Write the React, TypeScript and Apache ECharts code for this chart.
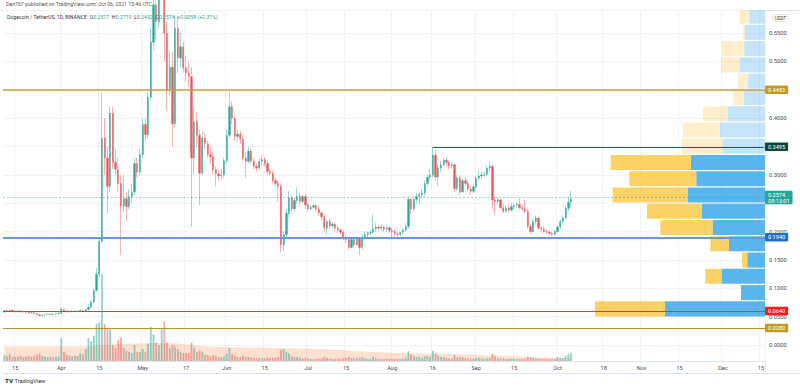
import React, { useEffect, useRef } from "react";
import * as echarts from "echarts";

const DAY = 86400000;
const firstDay = Date.UTC(2021, 2, 11);
const categoryCount = 281;
const categories: string[] = [];
for (let i = 0; i < categoryCount; i++) {
  categories.push(new Date(firstDay + i * DAY).toISOString().slice(0, 10));
}

const tickDates = [
  "2021-03-15", "2021-04-01", "2021-04-15", "2021-05-01", "2021-05-17", "2021-06-01",
  "2021-06-15", "2021-07-01", "2021-07-15", "2021-08-01", "2021-08-16", "2021-09-01",
  "2021-09-15", "2021-10-01", "2021-10-18", "2021-11-01", "2021-11-15", "2021-12-01", "2021-12-15",
];
const tickLabels = ["15", "Apr", "15", "May", "17", "Jun", "15", "Jul", "15", "Aug", "16", "Sep", "15", "Oct", "18", "Nov", "15", "Dec", "15"];

// price-axis labels hidden behind the level badges in the reference
const hiddenPriceLabels = [0.45, 0.35, 0.25];

// [open, close, low, high] daily, from 2021-03-11
const candles: number[][] = [
  [0.0585, 0.0605, 0.056, 0.0625], [0.0605, 0.0595, 0.058, 0.062], [0.0595, 0.0612, 0.058, 0.0625],
  [0.0612, 0.0598, 0.058, 0.0625], [0.0598, 0.059, 0.057, 0.061], [0.059, 0.0602, 0.057, 0.0615],
  [0.0602, 0.0585, 0.057, 0.061], [0.0585, 0.0588, 0.057, 0.06], [0.0588, 0.0575, 0.056, 0.06],
  [0.0575, 0.0565, 0.055, 0.059], [0.0565, 0.057, 0.055, 0.0585], [0.057, 0.0555, 0.054, 0.058],
  [0.0555, 0.0535, 0.052, 0.056], [0.0535, 0.052, 0.0505, 0.055], [0.052, 0.053, 0.0505, 0.0545],
  [0.053, 0.054, 0.052, 0.0555], [0.054, 0.0545, 0.053, 0.0556], [0.0545, 0.054, 0.053, 0.0556],
  [0.054, 0.0548, 0.053, 0.056], [0.0548, 0.0552, 0.054, 0.0565], [0.0552, 0.056, 0.054, 0.0575],
  // April
  [0.056, 0.0625, 0.0555, 0.0665], [0.0625, 0.0605, 0.059, 0.064], [0.0605, 0.0585, 0.057, 0.062],
  [0.0585, 0.059, 0.057, 0.0605], [0.059, 0.06, 0.058, 0.0615], [0.06, 0.0592, 0.058, 0.061],
  [0.0592, 0.0598, 0.058, 0.061], [0.0598, 0.0612, 0.059, 0.0625], [0.0612, 0.0605, 0.059, 0.0625],
  [0.0605, 0.0625, 0.06, 0.064], [0.0625, 0.0665, 0.061, 0.072], [0.0665, 0.076, 0.065, 0.08],
  [0.076, 0.096, 0.074, 0.1], [0.096, 0.125, 0.094, 0.136], [0.125, 0.183, 0.12, 0.19],
  [0.183, 0.365, 0.179, 0.4456], [0.365, 0.33, 0.3, 0.4], [0.33, 0.28, 0.232, 0.35],
  [0.28, 0.409, 0.27, 0.42], [0.409, 0.322, 0.31, 0.42], [0.322, 0.31, 0.3, 0.345],
  [0.31, 0.285, 0.27, 0.33], [0.285, 0.245, 0.159, 0.3], [0.245, 0.258, 0.235, 0.3],
  [0.258, 0.244, 0.219, 0.27], [0.244, 0.262, 0.24, 0.275], [0.262, 0.27, 0.25, 0.285],
  [0.27, 0.32, 0.265, 0.33], [0.32, 0.305, 0.295, 0.33], [0.305, 0.336, 0.3, 0.345],
  // May
  [0.336, 0.389, 0.33, 0.4], [0.389, 0.371, 0.36, 0.4], [0.371, 0.437, 0.365, 0.445],
  [0.437, 0.534, 0.43, 0.56], [0.534, 0.6, 0.52, 0.65], [0.6, 0.57, 0.54, 0.65],
  [0.57, 0.64, 0.56, 0.68], [0.64, 0.68, 0.62, 0.7376], [0.68, 0.55, 0.5, 0.7],
  [0.55, 0.45, 0.414, 0.57], [0.45, 0.49, 0.44, 0.52], [0.49, 0.39, 0.349, 0.517],
  [0.39, 0.559, 0.385, 0.58], [0.559, 0.506, 0.48, 0.58], [0.506, 0.526, 0.49, 0.55],
  [0.526, 0.489, 0.48, 0.535], [0.489, 0.48, 0.465, 0.51], [0.48, 0.473, 0.455, 0.5],
  [0.473, 0.33, 0.208, 0.49], [0.33, 0.394, 0.3, 0.42], [0.394, 0.37, 0.35, 0.41],
  [0.37, 0.303, 0.247, 0.38], [0.303, 0.365, 0.3, 0.375], [0.365, 0.355, 0.345, 0.375],
  [0.355, 0.336, 0.33, 0.36], [0.336, 0.332, 0.32, 0.35], [0.332, 0.309, 0.3, 0.34],
  [0.309, 0.302, 0.28, 0.315], [0.302, 0.298, 0.29, 0.31], [0.298, 0.3, 0.292, 0.31],
  // June
  [0.3, 0.325, 0.295, 0.33], [0.325, 0.37, 0.32, 0.38], [0.37, 0.42, 0.365, 0.4457],
  [0.42, 0.4, 0.39, 0.43], [0.4, 0.368, 0.36, 0.405], [0.368, 0.372, 0.36, 0.38],
  [0.372, 0.363, 0.355, 0.378], [0.363, 0.33, 0.325, 0.37], [0.33, 0.324, 0.295, 0.34],
  [0.324, 0.342, 0.32, 0.35], [0.342, 0.324, 0.32, 0.348], [0.324, 0.315, 0.31, 0.33],
  [0.315, 0.312, 0.305, 0.32], [0.312, 0.324, 0.308, 0.33], [0.324, 0.327, 0.318, 0.335],
  [0.327, 0.32, 0.315, 0.332], [0.32, 0.306, 0.3, 0.325], [0.306, 0.303, 0.298, 0.312],
  [0.303, 0.29, 0.285, 0.308], [0.29, 0.285, 0.28, 0.295], [0.285, 0.28, 0.253, 0.29],
  [0.28, 0.177, 0.163, 0.285], [0.177, 0.195, 0.165, 0.2], [0.195, 0.232, 0.19, 0.24],
  [0.232, 0.26, 0.225, 0.272], [0.26, 0.24, 0.235, 0.265], [0.24, 0.255, 0.235, 0.26],
  [0.255, 0.262, 0.25, 0.278], [0.262, 0.253, 0.248, 0.268], [0.253, 0.262, 0.25, 0.265],
  // July
  [0.262, 0.247, 0.24, 0.266], [0.247, 0.24, 0.235, 0.25], [0.24, 0.243, 0.237, 0.246],
  [0.243, 0.246, 0.24, 0.25], [0.246, 0.24, 0.236, 0.248], [0.24, 0.233, 0.228, 0.245],
  [0.233, 0.226, 0.22, 0.236], [0.226, 0.206, 0.2, 0.23], [0.206, 0.218, 0.195, 0.222],
  [0.218, 0.21, 0.206, 0.222], [0.21, 0.213, 0.207, 0.216], [0.213, 0.206, 0.202, 0.216],
  [0.206, 0.203, 0.198, 0.21], [0.203, 0.199, 0.195, 0.206], [0.199, 0.188, 0.185, 0.202],
  [0.188, 0.186, 0.18, 0.195], [0.186, 0.172, 0.168, 0.19], [0.172, 0.186, 0.17, 0.19],
  [0.186, 0.177, 0.173, 0.19], [0.177, 0.188, 0.175, 0.192], [0.188, 0.172, 0.159, 0.19],
  [0.172, 0.19, 0.168, 0.196], [0.19, 0.195, 0.186, 0.2], [0.195, 0.198, 0.19, 0.2],
  [0.198, 0.199, 0.194, 0.203], [0.199, 0.205, 0.196, 0.23], [0.205, 0.208, 0.2, 0.215],
  [0.208, 0.206, 0.203, 0.212], [0.206, 0.208, 0.202, 0.213], [0.208, 0.204, 0.2, 0.21],
  [0.204, 0.207, 0.2, 0.212],
  // August
  [0.207, 0.202, 0.198, 0.21], [0.202, 0.2, 0.19, 0.206], [0.2, 0.196, 0.193, 0.203],
  [0.196, 0.195, 0.19, 0.199], [0.195, 0.199, 0.192, 0.2], [0.199, 0.203, 0.195, 0.206],
  [0.203, 0.209, 0.2, 0.215], [0.209, 0.257, 0.205, 0.262], [0.257, 0.24, 0.23, 0.26],
  [0.24, 0.257, 0.236, 0.262], [0.257, 0.262, 0.25, 0.268], [0.262, 0.265, 0.248, 0.27],
  [0.265, 0.268, 0.258, 0.275], [0.268, 0.285, 0.262, 0.29], [0.285, 0.296, 0.28, 0.3],
  [0.296, 0.3, 0.29, 0.31], [0.3, 0.335, 0.295, 0.3495], [0.335, 0.296, 0.29, 0.345],
  [0.296, 0.312, 0.28, 0.32], [0.312, 0.318, 0.305, 0.325], [0.318, 0.326, 0.315, 0.33],
  [0.326, 0.322, 0.315, 0.33], [0.322, 0.316, 0.31, 0.325], [0.316, 0.318, 0.31, 0.322],
  [0.318, 0.276, 0.27, 0.32], [0.276, 0.295, 0.272, 0.3], [0.295, 0.27, 0.265, 0.298],
  [0.27, 0.29, 0.268, 0.293], [0.29, 0.285, 0.28, 0.295], [0.285, 0.275, 0.271, 0.29],
  [0.275, 0.271, 0.265, 0.28],
  // September
  [0.271, 0.279, 0.268, 0.283], [0.279, 0.294, 0.275, 0.298], [0.294, 0.298, 0.29, 0.309],
  [0.298, 0.3, 0.293, 0.305], [0.3, 0.301, 0.296, 0.306], [0.301, 0.312, 0.298, 0.316],
  [0.312, 0.315, 0.306, 0.323], [0.315, 0.256, 0.24, 0.318], [0.256, 0.253, 0.23, 0.262],
  [0.253, 0.256, 0.248, 0.26], [0.256, 0.242, 0.24, 0.258], [0.242, 0.236, 0.233, 0.248],
  [0.236, 0.241, 0.233, 0.245], [0.241, 0.238, 0.235, 0.248], [0.238, 0.244, 0.235, 0.25],
  [0.244, 0.246, 0.24, 0.25], [0.246, 0.248, 0.242, 0.252], [0.248, 0.242, 0.24, 0.258],
  [0.242, 0.24, 0.237, 0.246], [0.24, 0.236, 0.232, 0.256], [0.236, 0.209, 0.205, 0.24],
  [0.209, 0.2, 0.196, 0.213], [0.2, 0.218, 0.198, 0.222], [0.218, 0.224, 0.214, 0.228],
  [0.224, 0.206, 0.204, 0.226], [0.206, 0.204, 0.2, 0.21], [0.204, 0.2, 0.198, 0.209],
  [0.2, 0.199, 0.196, 0.204], [0.199, 0.197, 0.194, 0.202], [0.197, 0.195, 0.193, 0.2],
  // October
  [0.195, 0.2, 0.193, 0.203], [0.2, 0.208, 0.198, 0.212], [0.208, 0.218, 0.205, 0.222],
  [0.218, 0.224, 0.215, 0.228], [0.224, 0.241, 0.222, 0.245], [0.241, 0.2517, 0.236, 0.26],
  [0.2517, 0.2574, 0.2432, 0.2719],
];

// daily volume, billions of DOGE
const volumes = [
  2.2, 1.8, 2.5, 1.6, 1.5, 1.7, 2.0, 1.4, 1.6, 1.8, 1.5, 2.0, 2.4, 2.8, 2.0, 1.7, 1.5, 1.6, 1.4, 1.5, 1.8,
  8.7, 3.5, 2.4, 2.0, 1.8, 2.0, 1.9, 3.0, 2.5, 4.5, 8.7, 7.5, 9.5, 14.0, 14.5,
  33, 14, 12, 12, 6, 5, 8, 9, 5, 4, 3.5, 3.0, 6.0, 3.5, 3.5, 4.5, 3.5, 6.5, 13, 10, 7, 6, 12, 15, 7, 5, 6, 5.5, 4.5, 3.5, 3, 3, 3, 7,
  5, 3.5, 4, 3.5, 2.4, 2.2, 1.8, 2.2, 2.0, 1.6, 1.4, 1.8, 2.8, 4.9, 2.6, 2.0, 1.5, 1.4, 2.0, 1.6,
  1.5, 1.3, 1.2, 1.1, 1.2, 1.0, 1.1, 1.3, 1.0, 1.3, 1.2, 1.5, 4.3, 4.6, 3.5, 2.8, 1.8, 1.5, 1.6, 1.2,
  0.9, 1.2, 1.0, 0.8, 0.7, 0.8, 0.9, 1.0, 1.6, 1.2, 1.0, 0.8, 0.8, 0.9, 0.9, 1.2, 1.1, 1.5, 1.2, 1.0,
  1.1, 1.4, 1.5, 1.0, 0.8, 0.8, 1.6, 1.0, 0.8, 0.8, 0.8,
  0.9, 0.8, 0.9, 0.8, 0.9, 0.7, 0.9, 1.2, 3.7, 2.4, 1.8, 1.5, 1.6, 1.2, 1.8, 1.9, 1.5, 3.9, 2.8, 2.0,
  1.5, 1.6, 1.2, 1.0, 0.9, 2.2, 1.4, 1.3, 1.4, 1.1, 1.0, 0.9, 0.8, 1.1, 1.2, 1.0, 0.8, 1.0, 1.1, 2.9,
  1.8, 1.1, 1.0, 1.0, 0.8, 0.8, 0.9, 0.8, 0.7, 0.8, 0.7, 0.9, 1.6, 1.4, 1.2, 0.9, 1.0, 0.8, 0.8, 0.7,
  0.8, 0.9, 0.8, 1.5, 1.1, 1.0, 2.0, 2.6, 3.043,
];

// volume moving-average area (billions)
const volMaDates = [
  "2021-03-11", "2021-04-10", "2021-04-20", "2021-05-10", "2021-05-25", "2021-06-20", "2021-07-10",
  "2021-07-25", "2021-08-10", "2021-08-25", "2021-09-10", "2021-09-25", "2021-10-06",
];
const volMaValues = [5.5, 5.5, 6.3, 6.8, 5.5, 4.9, 4.3, 3.4, 2.8, 2.6, 2.0, 1.3, 1.1];

// visible range volume profile: price bin edges, up / down volume per bin
const profileEdges = [
  0.0494, 0.0781, 0.1068, 0.1354, 0.1641, 0.1928, 0.2215, 0.2502, 0.2788, 0.3075,
  0.3362, 0.3649, 0.3936, 0.4222, 0.4509, 0.4796, 0.5083, 0.537, 0.5656, 0.5943,
];
const profileUp = [100, 24, 43.3, 17.7, 36, 52.3, 63, 77, 68.7, 74, 42.3, 45, 37.3, 21.3, 17, 25.3, 20.7, 20, 15.7];
const profileDown = [70, 0, 16.4, 5.3, 18.7, 52.4, 55, 75.3, 67, 80.3, 41, 37, 24.7, 10.7, 10.3, 18.7, 22.6, 2, 10];
const profileValueArea = [1, 1, 1, 1, 1, 1, 1, 1, 1, 1, 0, 0, 0, 0, 0, 0, 0, 0, 0];

const keyLevels = [0.4483, 0.3495, 0.194, 0.064, 0.028];
const resistanceStart = "2021-08-16";
const lastPrice = 0.2574;
const lastVolume = 3.043;
const countdown = "08:13:01";
const header = { o: 0.2517, h: 0.2719, l: 0.2432, c: 0.2574, chg: 0.0058, pct: 2.31 };

const UP = "#26a69a";
const DOWN = "#ef5350";
const FONT = "Roboto, 'Liberation Sans', sans-serif";

export default function App() {
  const ref = useRef<HTMLDivElement>(null);

  useEffect(() => {
    const chart = echarts.init(ref.current!, null, { renderer: "svg" });
    const tickSet = new Set(tickDates);
    const tickMap: Record<string, string> = {};
    tickDates.forEach((d, i) => (tickMap[d] = tickLabels[i]));

    const bodies = candles.map((c) => [c[0], c[1], Math.min(c[0], c[1]), Math.max(c[0], c[1])]);
    const volData = volumes.map((v, i) => ({
      value: v,
      itemStyle: { color: candles[i][1] >= candles[i][0] ? "rgba(38,166,154,0.5)" : "rgba(239,83,80,0.5)" },
    }));
    const profileData = profileUp.map((u, i) => [profileEdges[i], profileEdges[i + 1], u, profileDown[i], profileValueArea[i]]);

    const badge = (bg: string, text: string, extra: any = {}) => ({
      show: true,
      position: "end",
      distance: 0,
      formatter: text,
      color: "#ffffff",
      backgroundColor: bg,
      fontSize: 5.6,
      fontFamily: FONT,
      padding: [1.5, 3, 1, 3],
      borderRadius: 1,
      ...extra,
    });
    const lastCat = categories[categories.length - 1];

    const option: any = {
      animation: false,
      backgroundColor: "#ffffff",
      textStyle: { fontFamily: FONT },
      grid: { left: 3, right: 35, top: 10, bottom: 28, containLabel: false },
      xAxis: [
        {
          type: "category",
          data: categories,
          boundaryGap: true,
          axisLine: { show: true, onZero: false, lineStyle: { color: "#e0e3eb" } },
          axisTick: { show: false },
          axisLabel: {
            interval: (_i: number, v: string) => tickSet.has(v),
            formatter: (v: string) => tickMap[v] || "",
            fontSize: 5.6,
            color: "#4a4a4a",
            margin: 4,
          },
          splitLine: {
            show: true,
            interval: (_i: number, v: string) => tickSet.has(v),
            lineStyle: { color: "#f0f2f6", width: 1 },
          },
        },
        { type: "value", min: 0, max: 762, inverse: true, show: false, gridIndex: 0 },
      ],
      yAxis: [
        {
          type: "value",
          position: "right",
          min: -0.0282,
          max: 0.5908,
          splitNumber: 12,
          axisLine: { show: false },
          axisTick: { show: false },
          axisLabel: {
            showMinLabel: false,
            showMaxLabel: false,
            formatter: (v: number) => (hiddenPriceLabels.some((h) => Math.abs(h - v) < 1e-6) ? "" : v.toFixed(4)),
            fontSize: 5.8,
            color: "#4a4a4a",
            margin: 4,
          },
          splitLine: { show: true, lineStyle: { color: "#f0f2f6", width: 1 } },
        },
        { type: "value", min: 0, max: 133, show: false, splitLine: { show: false } },
      ],
      series: [
        {
          type: "line",
          name: "volMa",
          xAxisIndex: 0,
          yAxisIndex: 1,
          data: volMaDates.map((d, i) => [d, volMaValues[i]]),
          smooth: 0.3,
          symbol: "none",
          lineStyle: { width: 0 },
          areaStyle: { color: "rgba(250,150,100,0.42)" },
          z: 1,
          silent: true,
        },
        {
          type: "bar",
          name: "volume",
          xAxisIndex: 0,
          yAxisIndex: 1,
          data: volData,
          barWidth: 1.8,
          z: 2,
          silent: true,
          markLine: {
            silent: true,
            symbol: ["none", "none"],
            lineStyle: { opacity: 0 },
            data: [{ yAxis: lastVolume, label: badge("#2aa496", lastVolume.toFixed(3) + "B", { offset: [0, 3] }) }],
          },
        },
        {
          type: "custom",
          name: "profile",
          xAxisIndex: 1,
          yAxisIndex: 0,
          data: profileData,
          z: 1,
          silent: true,
          renderItem: (params: any, api: any) => {
            const lo = api.value(0), hi = api.value(1), u = api.value(2), d = api.value(3), va = api.value(4);
            const right = api.coord([0, hi]);
            const mid = api.coord([u, lo]);
            const left = api.coord([u + d, lo]);
            const top = right[1] + 0.6;
            const h = mid[1] - right[1] - 1.2;
            const cs = params.coordSys;
            const children: any[] = [];
            const blue = echarts.graphic.clipRectByRect({ x: mid[0], y: top, width: right[0] - mid[0], height: h }, cs);
            if (blue) children.push({ type: "rect", shape: blue, style: { fill: va ? "rgba(21,150,230,0.7)" : "rgba(21,150,230,0.25)" } });
            if (d > 0) {
              const yel = echarts.graphic.clipRectByRect({ x: left[0], y: top, width: mid[0] - left[0], height: h }, cs);
              if (yel) children.push({ type: "rect", shape: yel, style: { fill: va ? "rgba(251,192,45,0.72)" : "rgba(251,192,45,0.25)" } });
            }
            return { type: "group", children };
          },
        },
        {
          type: "candlestick",
          name: "wicks",
          data: candles,
          barWidth: 0.8,
          clip: true,
          silent: true,
          z: 3,
          itemStyle: {
            color: "rgba(38,166,154,0.5)",
            color0: "rgba(239,83,80,0.5)",
            borderColor: "rgba(38,166,154,0.5)",
            borderColor0: "rgba(239,83,80,0.5)",
            borderWidth: 0.9,
          },
        },
        {
          type: "candlestick",
          name: "bodies",
          data: bodies,
          barWidth: 1.8,
          clip: true,
          silent: true,
          z: 4,
          itemStyle: { color: UP, color0: DOWN, borderColor: UP, borderColor0: DOWN, borderWidth: 0.3 },
          markLine: {
            silent: true,
            symbol: ["none", "none"],
            data: [
              { yAxis: keyLevels[0], lineStyle: { color: "#c9a227", width: 1.5, type: "solid" }, label: badge("#c79a1e", keyLevels[0].toFixed(4)) },
              [
                { coord: [resistanceStart, keyLevels[1]], lineStyle: { color: "#245c4d", width: 1.2, type: "solid" }, label: badge("#0b4a3b", keyLevels[1].toFixed(4), { distance: 1.3 }) },
                { coord: [lastCat, keyLevels[1]] },
              ],
              { yAxis: lastPrice, lineStyle: { color: "rgba(38,166,154,0.6)", width: 0.8, type: [2, 2] }, label: badge(UP, lastPrice.toFixed(4) + "\n" + countdown, { lineHeight: 6, padding: [1, 3, 0.5, 3] }) },
              { yAxis: keyLevels[2], lineStyle: { color: "#6199e3", width: 2, type: "solid" }, label: badge("#1f6fd1", keyLevels[2].toFixed(4)) },
              { yAxis: keyLevels[3], lineStyle: { color: "#e53935", width: 1.2, type: "solid" }, label: badge("#ff1a1a", keyLevels[3].toFixed(4)) },
              { yAxis: keyLevels[4], lineStyle: { color: "#b8922a", width: 1.2, type: "solid" }, label: badge("#c49b1e", keyLevels[4].toFixed(4)) },
            ],
          },
        },
      ],
      graphic: [
        { type: "line", shape: { x1: 0, y1: 10.5, x2: 800, y2: 10.5 }, style: { stroke: "#e0e3eb", lineWidth: 1 }, silent: true },
        { type: "line", shape: { x1: 3, y1: 373.5, x2: 800, y2: 373.5 }, style: { stroke: "#e0e3eb", lineWidth: 1 }, silent: true },
        { type: "line", shape: { x1: 765.5, y1: 361, x2: 765.5, y2: 373.5 }, style: { stroke: "#e0e3eb", lineWidth: 1 }, silent: true },
        {
          type: "text",
          left: 6,
          top: 1.5,
          style: { text: "Den767 published on TradingView.com, Oct 06, 2021 15:46 UTC", fontSize: 5.2, fill: "#555", fontFamily: FONT },
          silent: true,
        },
        {
          type: "text",
          left: 7,
          top: 14.5,
          z: 10,
          style: {
            text:
              "{n|Dogecoin / TetherUS, 1D, BINANCE}  {k|O}{v|" + header.o.toFixed(4) + "}  {k|H}{v|" + header.h.toFixed(4) +
              "}  {k|L}{v|" + header.l.toFixed(4) + "}  {k|C}{v|" + header.c.toFixed(4) + "}  {v|+" + header.chg.toFixed(4) +
              " (+" + header.pct.toFixed(2) + "%)}",
            fontFamily: FONT,
            fontSize: 5.2,
            rich: {
              n: { fill: "#333", fontSize: 5.2, fontFamily: FONT },
              k: { fill: "#333", fontSize: 5.2, fontFamily: FONT },
              v: { fill: UP, fontSize: 5.2, fontFamily: FONT },
            },
          },
          silent: true,
        },
        { type: "rect", shape: { x: 773, y: 14.5, width: 15, height: 7, r: 1.5 }, style: { fill: "#fff", stroke: "#d1d4dc", lineWidth: 0.6 }, silent: true },
        { type: "text", x: 780.5, y: 18, style: { text: "USDT", fontSize: 4.6, fill: "#333", align: "center", verticalAlign: "middle", fontFamily: FONT }, silent: true },
        { type: "text", left: 5, top: 378, style: { text: "TV", fontSize: 6.2, fontWeight: "bold", fill: "#131722", fontFamily: FONT }, silent: true },
        { type: "text", left: 14.5, top: 378.3, style: { text: "TradingView", fontSize: 5.6, fill: "#333", fontFamily: FONT }, silent: true },
      ],
    };

    chart.setOption(option);
    return () => chart.dispose();
  }, []);

  return <div ref={ref} style={{ position: "absolute", left: 0, top: 0, width: 800, height: 389 }} />;
}
